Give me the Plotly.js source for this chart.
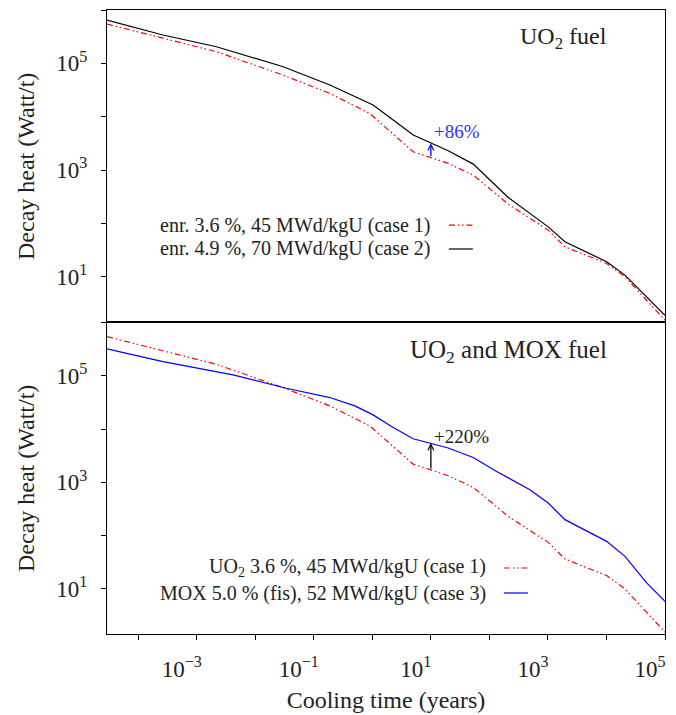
<!DOCTYPE html>
<html>
<head>
<meta charset="utf-8">
<script src="https://cdn.plot.ly/plotly-3.0.1.min.js"></script>
<style>html,body{margin:0;padding:0;background:#fff;}#chart{width:676px;height:715px;}</style>
</head>
<body>
<div id="chart"></div>
<script>
// Cooling time (years) and decay heat (W/t)
const timeCase1 = [2.93e-5, 2.05e-4, 2.17e-3, 0.030, 0.188, 0.9, 5.0, 10, 19.8, 53, 210, 1010, 1950, 10100, 20700, 1e5];
const heatCase1 = [5.46e5, 3.16e5, 1.65e5, 6.0e4, 2.73e4, 1.15e4, 2.19e3, 1.71e3, 1.33e3, 802, 229, 74.5, 36.2, 17.7, 9.9, 1.53];

const timeCase2 = [2.93e-5, 2.65e-4, 2.17e-3, 0.030, 0.188, 1.03, 5.0, 10, 19.8, 53, 210, 1010, 1950, 10100, 20700, 1e5];
const heatCase2 = [6.49e5, 3.40e5, 2.05e5, 8.63e4, 3.92e4, 1.65e4, 4.52e3, 3.18e3, 2.29e3, 1.29e3, 306, 85.9, 45.0, 19.0, 10.7, 1.89];

const timeCase3 = [2.93e-5, 2.65e-4, 4.17e-3, 0.0341, 0.188, 0.502, 1.03, 2.13, 4.98, 10, 19.8, 52.8, 133, 492, 1010, 1950, 10070, 20700, 48600, 1e5];
const heatCase3 = [3.21e5, 1.85e5, 1.045e5, 5.87e4, 3.92e4, 2.73e4, 1.85e4, 1.12e4, 6.58e3, 5.46e3, 4.41e3, 2.93e3, 1.60e3, 726, 409, 199, 77.8, 40.7, 12.9, 5.83];

const labelCase1 = "enr. 3.6 %, 45 MWd/kgU (case 1)";
const labelCase2 = "enr. 4.9 %, 70 MWd/kgU (case 2)";
const labelCase1b = "UO<sub>2</sub> 3.6 %, 45 MWd/kgU (case 1)";
const labelCase3 = "MOX 5.0 % (fis), 52 MWd/kgU (case 3)";
const titleTop = "UO<sub>2</sub> fuel";
const titleBottom = "UO<sub>2</sub> and MOX fuel";
const gainTop = "+86%";
const gainBottom = "+220%";

const xTickVals = [1e-4, 1e-3, 1e-2, 1e-1, 1, 10, 100, 1e3, 1e4, 1e5];
const xTickText = ["", "10<sup>−3</sup>", "", "10<sup>−1</sup>", "", "10<sup>1</sup>", "", "10<sup>3</sup>", "", "10<sup>5</sup>"];
const yTickVals = [1, 10, 100, 1e3, 1e4, 1e5, 1e6];
const yTickText = ["", "10<sup>1</sup>", "", "10<sup>3</sup>", "", "10<sup>5</sup>", ""];

const FONT = "Liberation Serif, Times New Roman, serif";
const TXT = "#222";
const RED = "#ff0000", BLUE = "#0000ff", BLACK = "#000000";
const redDash = "6px,3px,1.5px,2.5px,1.5px,3px";

const traces = [
  {x: timeCase1, y: heatCase1, xaxis: "x", yaxis: "y", mode: "lines", line: {color: RED, width: 1.2, dash: redDash}, showlegend: false, hoverinfo: "skip"},
  {x: timeCase2, y: heatCase2, xaxis: "x", yaxis: "y", mode: "lines", line: {color: BLACK, width: 1.2}, showlegend: false, hoverinfo: "skip"},
  {x: timeCase1, y: heatCase1, xaxis: "x2", yaxis: "y2", mode: "lines", line: {color: RED, width: 1.2, dash: redDash}, showlegend: false, hoverinfo: "skip"},
  {x: timeCase3, y: heatCase3, xaxis: "x2", yaxis: "y2", mode: "lines", line: {color: BLUE, width: 1.2}, showlegend: false, hoverinfo: "skip"}
];

const split = 0.4989;
const axisCommon = {
  type: "log", showline: true, linecolor: BLACK, linewidth: 1.2,
  showgrid: false, zeroline: false, tickfont: {family: FONT, size: 23, color: TXT},
  tickcolor: BLACK, ticklen: 5, tickwidth: 1
};
const titleFont = {family: FONT, size: 24, color: TXT};

const i10 = timeCase1.indexOf(10);
const j10 = timeCase2.indexOf(10);
const k10 = timeCase3.indexOf(10);

const layout = {
  width: 676, height: 715,
  margin: {l: 107, r: 11, t: 10, b: 81},
  paper_bgcolor: "#fff", plot_bgcolor: "#fff",
  font: {family: FONT, color: TXT},
  xaxis: Object.assign({}, axisCommon, {domain: [0, 1], anchor: "y", side: "top", mirror: false, range: [-4.533, 5.0], ticks: "", showticklabels: false, matches: "x2"}),
  xaxis2: Object.assign({}, axisCommon, {domain: [0, 1], anchor: "y2", mirror: true, range: [-4.533, 5.0], ticks: "outside",
    tickmode: "array", tickvals: xTickVals, ticktext: xTickText, ticklabelshift: -15, ticklabelstandoff: 9,
    title: {text: "Cooling time (years)", font: titleFont, standoff: 10}}),
  yaxis: Object.assign({}, axisCommon, {domain: [split, 1], anchor: "x", mirror: true, range: [0.137, 6], ticks: "outside",
    tickmode: "array", tickvals: yTickVals, ticktext: yTickText, ticklabelstandoff: 9,
    title: {text: "Decay heat (Watt/t)", font: titleFont, standoff: 14}}),
  yaxis2: Object.assign({}, axisCommon, {domain: [0, split], anchor: "x2", mirror: true, range: [0.15, 6], ticks: "outside",
    tickmode: "array", tickvals: yTickVals, ticktext: yTickText, ticklabelstandoff: 9,
    title: {text: "Decay heat (Watt/t)", font: titleFont, standoff: 14}}),
  annotations: [
    {xref: "paper", yref: "paper", x: 0.8996, y: 0.955, xanchor: "right", yanchor: "middle", showarrow: false, text: titleTop, font: {family: FONT, size: 24, color: TXT}},
    {xref: "paper", yref: "paper", x: 0.8996, y: 0.452, xanchor: "right", yanchor: "middle", showarrow: false, text: titleBottom, font: {family: FONT, size: 25, color: TXT}},
    {xref: "paper", yref: "paper", x: 0.5839, y: 0.6554, xanchor: "right", yanchor: "middle", showarrow: false, text: labelCase1, font: {family: FONT, size: 20, color: TXT}},
    {xref: "paper", yref: "paper", x: 0.5839, y: 0.617, xanchor: "right", yanchor: "middle", showarrow: false, text: labelCase2, font: {family: FONT, size: 20, color: TXT}},
    {xref: "paper", yref: "paper", x: 0.6826, y: 0.1058, xanchor: "right", yanchor: "middle", showarrow: false, text: labelCase1b, font: {family: FONT, size: 20, color: TXT}},
    {xref: "paper", yref: "paper", x: 0.6826, y: 0.0657, xanchor: "right", yanchor: "middle", showarrow: false, text: labelCase3, font: {family: FONT, size: 20, color: TXT}},
    // arrows between the curves at 10 years
    {xref: "x", yref: "y", axref: "x", ayref: "y", x: 1, y: Math.log10(heatCase2[j10]), ax: 1, ay: Math.log10(heatCase1[i10]), showarrow: true, arrowhead: 5, arrowsize: 0.9, arrowwidth: 1.3, arrowcolor: BLUE, text: ""},
    {xref: "x2", yref: "y2", axref: "x2", ayref: "y2", x: 1, y: Math.log10(heatCase3[k10]), ax: 1, ay: Math.log10(heatCase1[i10]), showarrow: true, arrowhead: 5, arrowsize: 0.9, arrowwidth: 1.3, arrowcolor: BLACK, text: ""},
    {xref: "paper", yref: "paper", x: 0.5822, y: 0.8045, xanchor: "left", yanchor: "middle", showarrow: false, text: gainTop, font: {family: FONT, size: 19, color: "#3030ff"}},
    {xref: "paper", yref: "paper", x: 0.5822, y: 0.3165, xanchor: "left", yanchor: "middle", showarrow: false, text: gainBottom, font: {family: FONT, size: 19, color: TXT}}
  ],
  shapes: [
    {type: "line", xref: "paper", yref: "paper", x0: 0.6127, x1: 0.6557, y0: 0.6554, y1: 0.6554, line: {color: RED, width: 1.2, dash: redDash}},
    {type: "line", xref: "paper", yref: "paper", x0: 0.6127, x1: 0.6557, y0: 0.617, y1: 0.617, line: {color: BLACK, width: 1.2}},
    {type: "line", xref: "paper", yref: "paper", x0: 0.7113, x1: 0.7543, y0: 0.1058, y1: 0.1058, line: {color: RED, width: 1.2, dash: redDash}},
    {type: "line", xref: "paper", yref: "paper", x0: 0.7113, x1: 0.7543, y0: 0.0657, y1: 0.0657, line: {color: BLUE, width: 1.2}}
  ]
};

Plotly.newPlot("chart", traces, layout, {staticPlot: true, displayModeBar: false});
</script>
</body>
</html>
